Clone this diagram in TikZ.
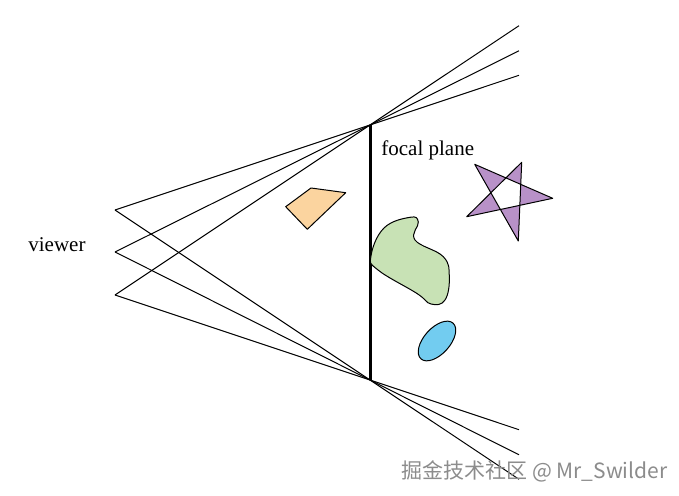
\documentclass[tikz,border=0pt]{standalone}
\usepackage{fontspec}
\setmainfont{Liberation Serif}
\newfontfamily\cjkfont{Noto Sans CJK SC}
\definecolor{quadorange}{HTML}{FBD49F}
\definecolor{blobgreen}{HTML}{C8E2B5}
\definecolor{ovalblue}{HTML}{72CCF0}
\definecolor{starpurple}{HTML}{B891C8}
\tikzset{
  ray/.style={line width=0.5pt},
  shape outline/.style={draw,line width=0.5pt,line join=round},
  label text/.style={inner sep=0pt,font=\fontsize{10.5}{12}\selectfont}
}
\begin{document}
\begin{tikzpicture}[x=0.5pt,y=-0.5pt]
\useasboundingbox[fill=white] (0,0) rectangle (679,496);
% viewer and focal plane
\coordinate (v1) at (115,210);
\coordinate (v2) at (115,252);
\coordinate (v3) at (115,295);
\coordinate (ptop) at (370,125);
\coordinate (pbot) at (370,380);
\coordinate (t1) at (519,75.3);
\coordinate (t2) at (519,50.8);
\coordinate (t3) at (519,25.7);
\coordinate (b1) at (519,479.3);
\coordinate (b2) at (519,454.8);
\coordinate (b3) at (519,429.7);
\draw[ray] (v1)--(ptop)--(t1);
\draw[ray] (v2)--(ptop)--(t2);
\draw[ray] (v3)--(ptop)--(t3);
\draw[ray] (v1)--(pbot)--(b1);
\draw[ray] (v2)--(pbot)--(b2);
\draw[ray] (v3)--(pbot)--(b3);
\draw[line width=1.5pt] (ptop)--(pbot);
\node[label text,anchor=base west] (viewer) at (28,251.5) {viewer};
\node[label text,anchor=base west] (focal) at (381,156) {focal plane};
% objects in the scene
\draw[shape outline,fill=quadorange] (285.7,206.7)--(311,188)--(345.7,192.7)--(307.3,229.3)--cycle;
\draw[shape outline,fill=starpurple,even odd rule] (474.7,164.3)--(552.7,198.3)--(466.7,216.7)--(521.7,162.3)--(518.3,241)--cycle;
\draw[shape outline,fill=blobgreen] plot[smooth cycle,tension=0.7] coordinates {(371,256) (384,228) (410,217.3) (418.3,222) (415,240) (443.3,256.7) (449.3,276.7) (445,300) (431,304) (416.7,293.3) (378,270)};
\draw[shape outline,fill=ovalblue,rotate around={48:(437,341)}] (437,341) ellipse [x radius=24,y radius=13];
% watermark
\node[inner sep=0pt,anchor=base west,text=black!45,font=\cjkfont\fontsize{10.5}{12}\selectfont] (mark) at (401,478) {掘金技术社区 @ Mr\_Swilder};
\end{tikzpicture}
\end{document}
